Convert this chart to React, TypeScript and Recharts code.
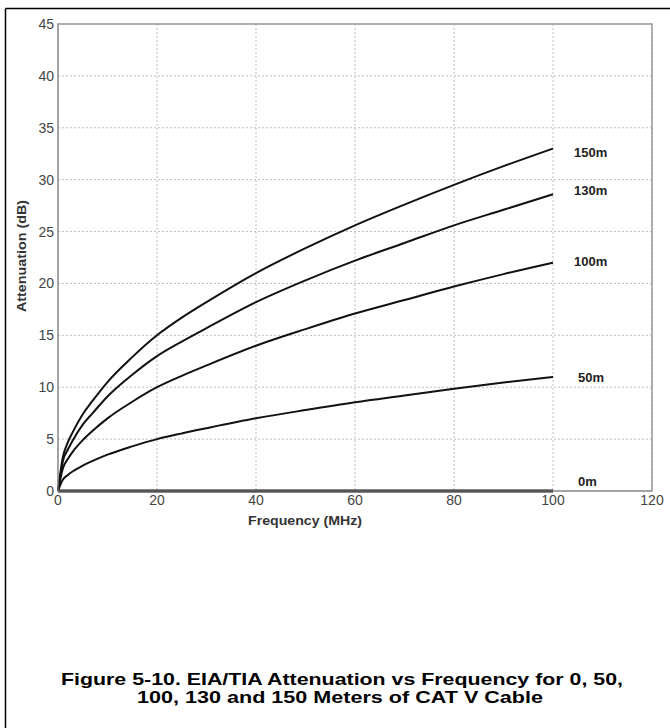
import { LineChart, Line, XAxis, YAxis, CartesianGrid, ReferenceArea } from "recharts";

// frequency in MHz
const freq = [0, 1, 2, 3, 5, 7, 10, 15, 20, 25, 30, 40, 50, 60, 70, 80, 90, 100];

// attenuation in dB
const att0m = [0, 0, 0, 0, 0, 0, 0, 0, 0, 0, 0, 0, 0, 0, 0, 0, 0, 0];
const att50m = [0, 1.1, 1.55, 1.9, 2.45, 2.9, 3.5, 4.3, 5.0, 5.55, 6.05, 7.0, 7.8, 8.55, 9.2, 9.85, 10.45, 11.0];
const att100m = [0, 2.2, 3.1, 3.8, 4.9, 5.8, 7.0, 8.6, 10.0, 11.1, 12.1, 14.0, 15.6, 17.1, 18.4, 19.7, 20.9, 22.0];
const att130m = [0, 2.9, 4.0, 4.9, 6.4, 7.5, 9.1, 11.2, 13.0, 14.4, 15.7, 18.2, 20.3, 22.2, 23.9, 25.6, 27.1, 28.6];
const att150m = [0, 3.3, 4.7, 5.7, 7.4, 8.7, 10.5, 12.9, 15.0, 16.7, 18.2, 21.0, 23.4, 25.6, 27.6, 29.5, 31.3, 33.0];

const xTicks = [0, 20, 40, 60, 80, 100, 120];
const yTicks = [0, 5, 10, 15, 20, 25, 30, 35, 40, 45];

const data = freq.map((f, i) => ({
  f,
  m0: att0m[i],
  m50: att50m[i],
  m100: att100m[i],
  m130: att130m[i],
  m150: att150m[i],
}));

const FONT = "'Liberation Sans', Arial, Helvetica, sans-serif";

// draws the cable length next to the end of each curve
const endLabel = (text: string, dx: number, dy: number) => (props: any) => {
  if (props.index !== freq.length - 1) return <g />;
  return (
    <text
      x={props.x + dx}
      y={props.y + dy}
      dominantBaseline="central"
      fontFamily={FONT}
      fontWeight="bold"
      fontSize={13}
      fill="#222"
    >
      {text}
    </text>
  );
};

export default function App() {
  const tick = { fill: "#444", fontSize: 14, fontFamily: FONT };
  return (
    <div style={{ position: "absolute", left: 0, top: 0, width: 670, height: 728, background: "#fff" }}>
      <LineChart
        width={670}
        height={728}
        data={data}
        margin={{ top: 24, right: 18, left: 0, bottom: 0 }}
      >
        <CartesianGrid stroke="#bdbdbd" strokeDasharray="2 2" />
        <XAxis
          dataKey="f"
          type="number"
          domain={[0, 120]}
          ticks={xTicks}
          height={237}
          tickLine={false}
          tickSize={2}
          tickMargin={2}
          axisLine={{ stroke: "#999" }}
          tick={tick}
        />
        <YAxis
          type="number"
          domain={[0, 45]}
          ticks={yTicks}
          width={58}
          tickLine={false}
          tickSize={2}
          tickMargin={2}
          axisLine={{ stroke: "#999" }}
          tick={tick}
        />
        <ReferenceArea x1={0} x2={120} y1={0} y2={45} fill="none" stroke="#999" strokeWidth={1.5} />
        <Line type="monotone" dataKey="m150" stroke="#111" strokeWidth={2} dot={false} isAnimationActive={false} label={endLabel("150m", 21, 4)} />
        <Line type="monotone" dataKey="m130" stroke="#111" strokeWidth={2} dot={false} isAnimationActive={false} label={endLabel("130m", 21, -4)} />
        <Line type="monotone" dataKey="m100" stroke="#111" strokeWidth={2} dot={false} isAnimationActive={false} label={endLabel("100m", 21, -1)} />
        <Line type="monotone" dataKey="m50" stroke="#111" strokeWidth={2} dot={false} isAnimationActive={false} label={endLabel("50m", 25, 1)} />
        <Line type="monotone" dataKey="m0" stroke="#111" strokeWidth={3} dot={false} isAnimationActive={false} label={endLabel("0m", 25, -10)} />
      </LineChart>
      <svg
        width={670}
        height={728}
        style={{ position: "absolute", left: 0, top: 0, pointerEvents: "none" }}
      >
        <line x1={5.5} y1={8.5} x2={670} y2={8.5} stroke="#000" strokeWidth={1.5} />
        <line x1={5.5} y1={8.5} x2={5.5} y2={728} stroke="#000" strokeWidth={1.5} />
        <text x={248} y={521} textLength={114} lengthAdjust="spacingAndGlyphs" dominantBaseline="central" fontFamily={FONT} fontWeight="bold" fontSize={12.5} fill="#333">
          Frequency (MHz)
        </text>
        <text
          x={22}
          y={312}
          transform="rotate(-90 22 312)"
          textLength={112}
          lengthAdjust="spacingAndGlyphs"
          dominantBaseline="central"
          fontFamily={FONT}
          fontWeight="bold"
          fontSize={12.5}
          fill="#333"
        >
          Attenuation (dB)
        </text>
        <text x={61} y={685} textLength={562} lengthAdjust="spacingAndGlyphs" fontFamily={FONT} fontWeight="bold" fontSize={17} fill="#000">
          Figure 5-10. EIA/TIA Attenuation vs Frequency for 0, 50,
        </text>
        <text x={137} y={703} textLength={406} lengthAdjust="spacingAndGlyphs" fontFamily={FONT} fontWeight="bold" fontSize={17} fill="#000">
          100, 130 and 150 Meters of CAT V Cable
        </text>
      </svg>
    </div>
  );
}
